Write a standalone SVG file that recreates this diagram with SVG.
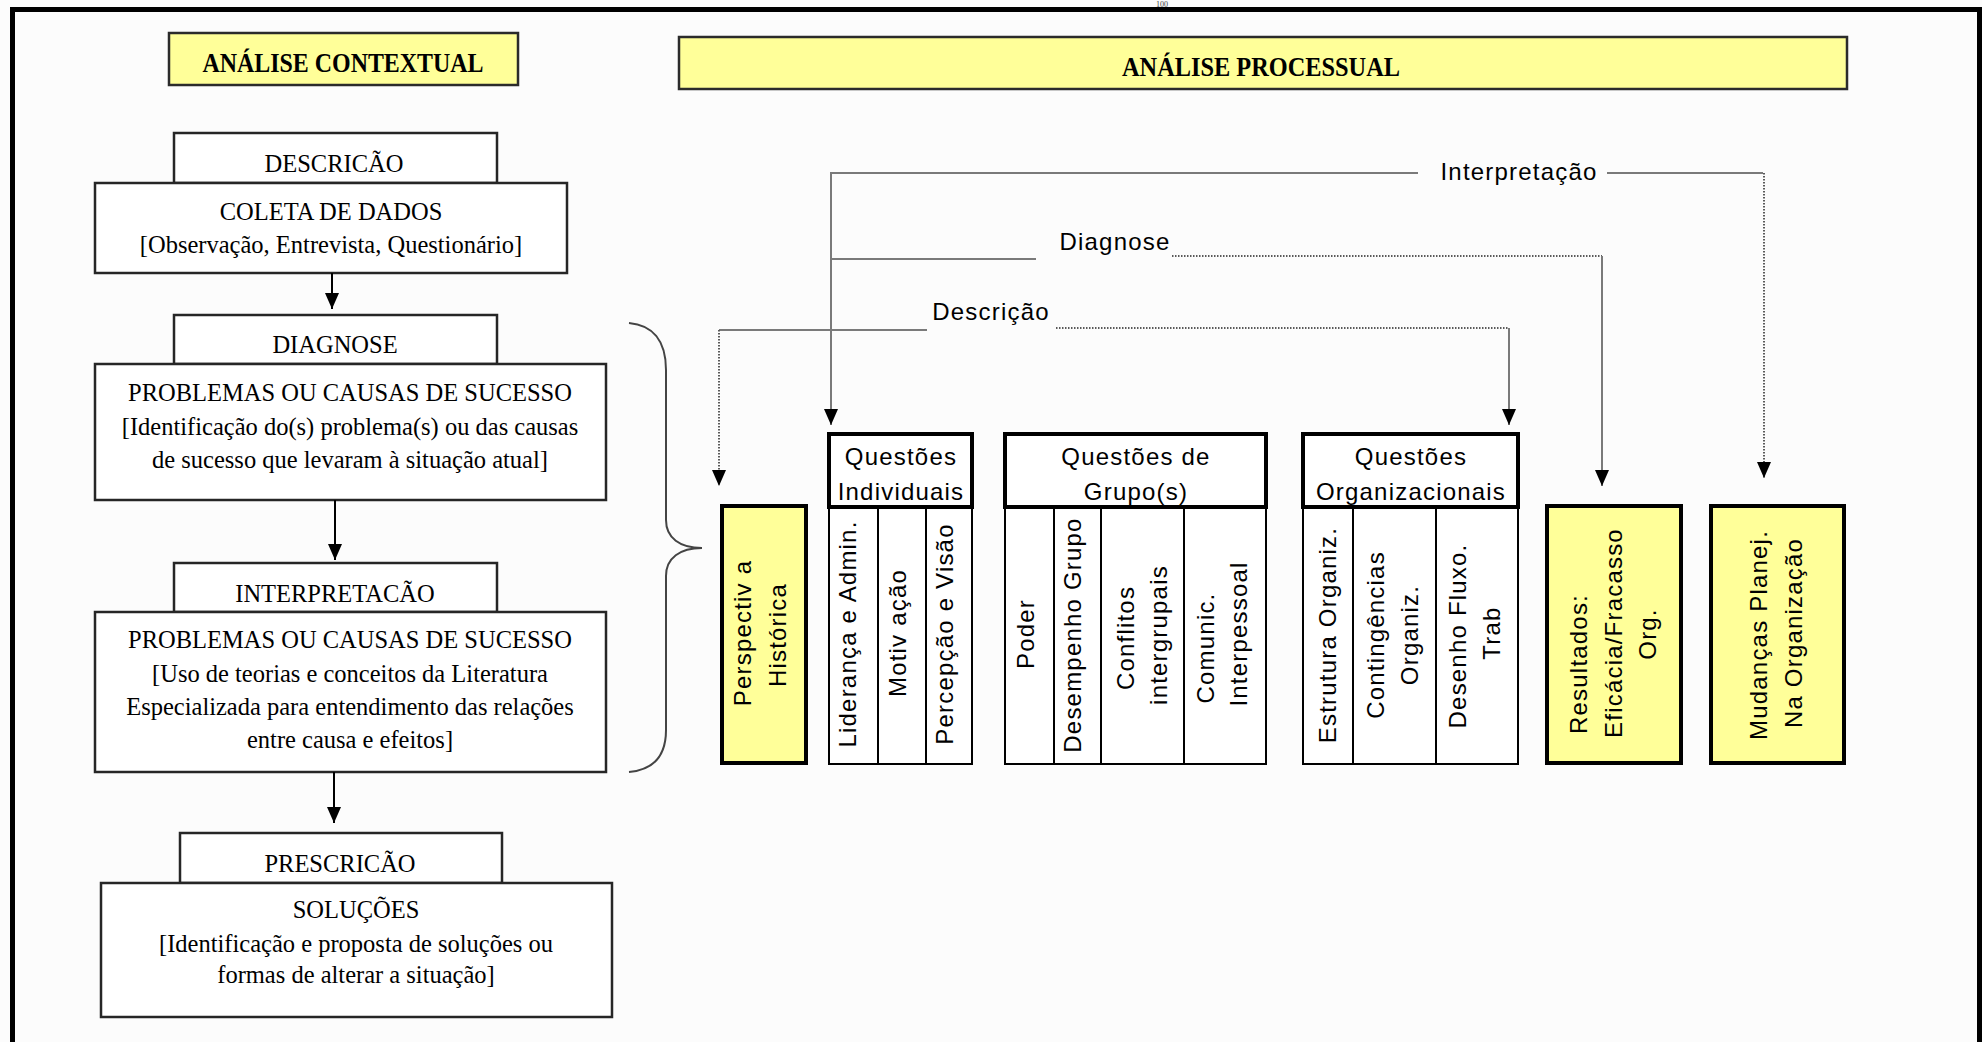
<svg xmlns="http://www.w3.org/2000/svg" width="1982" height="1042" viewBox="0 0 1982 1042">
  <style>
    .serif { font-family: 'Liberation Serif', 'Times New Roman', serif; font-size: 24.5px; fill: #000; text-anchor: middle; }
    .title { font-family: 'Liberation Serif', 'Times New Roman', serif; font-size: 27px; font-weight: bold; fill: #000; text-anchor: middle; }
    .sans { font-family: 'Liberation Sans', Arial, sans-serif; font-size: 24px; letter-spacing: 1.2px; fill: #000; text-anchor: middle; }
    .ybox { fill: #FFFF99; stroke: #2b2b2b; stroke-width: 2.5; }
    .step { fill: #fff; stroke: #262626; stroke-width: 2.5; }
    .hdr { fill: #fff; stroke: #000; stroke-width: 4; }
    .col { fill: #fff; stroke: #000; stroke-width: 2; }
    .yel { fill: #FFFF99; stroke: #000; stroke-width: 4; }
    .flow { fill: none; stroke: #000; stroke-width: 2; }
    .link { fill: none; stroke: #7a7a7a; stroke-width: 2; }
    .dot { fill: none; stroke: #5a5a5a; stroke-width: 2; stroke-dasharray: 1.5 1.5; }
  </style>
  <defs>
    <marker id="ah" markerUnits="userSpaceOnUse" markerWidth="16" markerHeight="14" refX="16" refY="7" orient="auto">
      <path d="M0,0 L16,7 L0,14 Z" fill="#000"/>
    </marker>
  </defs>

  <!-- page -->
  <rect x="0" y="0" width="1982" height="1042" fill="#fcfcfc"/>
  <text x="1162" y="6.5" style="font-family: 'Liberation Serif', serif; font-size: 8px; text-anchor: middle; fill: #444;">100</text>
  <rect x="10" y="7" width="5" height="1035" fill="#000"/>
  <rect x="10" y="7" width="1972" height="5" fill="#000"/>
  <rect x="1977" y="7" width="5" height="1035" fill="#000"/>

  <!-- section titles -->
  <g id="analise-contextual">
    <rect class="ybox" x="169" y="33" width="349" height="52"/>
    <text class="title" x="343" y="72" textLength="281" lengthAdjust="spacingAndGlyphs">ANÁLISE CONTEXTUAL</text>
  </g>
  <g id="analise-processual">
    <rect class="ybox" x="679" y="37" width="1168" height="52"/>
    <text class="title" x="1261" y="76" textLength="278" lengthAdjust="spacingAndGlyphs">ANÁLISE PROCESSUAL</text>
  </g>

  <!-- contextual steps -->
  <g id="descricao">
    <rect class="step" x="174" y="133" width="323" height="50"/>
    <text class="serif" x="334" y="172">DESCRICÃO</text>
    <rect class="step" x="95" y="183" width="472" height="90"/>
    <text class="serif" x="331" y="220">COLETA DE DADOS</text>
    <text class="serif" x="331" y="253">[Observação, Entrevista, Questionário]</text>
  </g>
  <g id="diagnose">
    <rect class="step" x="174" y="315" width="323" height="49"/>
    <text class="serif" x="335" y="353">DIAGNOSE</text>
    <rect class="step" x="95" y="364" width="511" height="136"/>
    <text class="serif" x="350" y="401">PROBLEMAS OU CAUSAS DE SUCESSO</text>
    <text class="serif" x="350" y="435">[Identificação do(s) problema(s) ou das causas</text>
    <text class="serif" x="350" y="468">de sucesso que levaram à situação atual]</text>
  </g>
  <g id="interpretacao">
    <rect class="step" x="174" y="563" width="323" height="49"/>
    <text class="serif" x="335" y="602">INTERPRETACÃO</text>
    <rect class="step" x="95" y="612" width="511" height="160"/>
    <text class="serif" x="350" y="648">PROBLEMAS OU CAUSAS DE SUCESSO</text>
    <text class="serif" x="350" y="682">[Uso de teorias e conceitos da Literatura</text>
    <text class="serif" x="350" y="715">Especializada para entendimento das relações</text>
    <text class="serif" x="350" y="748">entre causa e efeitos]</text>
  </g>
  <g id="prescricao">
    <rect class="step" x="180" y="833" width="322" height="50"/>
    <text class="serif" x="340" y="872">PRESCRICÃO</text>
    <rect class="step" x="101" y="883" width="511" height="134"/>
    <text class="serif" x="356" y="918">SOLUÇÕES</text>
    <text class="serif" x="356" y="952">[Identificação e proposta de soluções ou</text>
    <text class="serif" x="356" y="983">formas de alterar a situação]</text>
  </g>

  <!-- brace grouping diagnose and interpretation -->
  <g id="chave">
    <path d="M629,323 C652,325 666,340 666,370 L666,520 C666,538 680,548 702,548 C680,548 666,558 666,576 L666,730 C666,758 652,770 629,772" fill="none" stroke="#444" stroke-width="2"/>
  </g>

  <!-- processual nodes -->
  <g id="perspectiva">
    <rect class="yel" x="722" y="506" width="84" height="257"/>
    <text class="sans" transform="translate(751,633) rotate(-90)">Perspectiv a</text>
    <text class="sans" transform="translate(786,635) rotate(-90)">Histórica</text>
  </g>
  <g id="questoes-individuais">
    <rect class="col" x="829" y="507" width="143" height="257"/>
    <line class="col" x1="878" y1="507" x2="878" y2="764"/>
    <line class="col" x1="926" y1="507" x2="926" y2="764"/>
    <rect class="hdr" x="829" y="434" width="143" height="73"/>
    <text class="sans" x="901" y="465">Questões</text>
    <text class="sans" x="901" y="500">Individuais</text>
    <text class="sans" transform="translate(856,634) rotate(-90)">Liderança e Admin.</text>
    <text class="sans" transform="translate(906,633) rotate(-90)">Motiv ação</text>
    <text class="sans" transform="translate(953,634) rotate(-90)">Percepção e Visão</text>
  </g>
  <g id="questoes-grupo">
    <rect class="col" x="1005" y="507" width="261" height="257"/>
    <line class="col" x1="1054" y1="507" x2="1054" y2="764"/>
    <line class="col" x1="1101" y1="507" x2="1101" y2="764"/>
    <line class="col" x1="1184" y1="507" x2="1184" y2="764"/>
    <rect class="hdr" x="1005" y="434" width="261" height="73"/>
    <text class="sans" x="1136" y="465">Questões de</text>
    <text class="sans" x="1136" y="500">Grupo(s)</text>
    <text class="sans" transform="translate(1034,634) rotate(-90)">Poder</text>
    <text class="sans" transform="translate(1081,635) rotate(-90)">Desempenho Grupo</text>
    <text class="sans" transform="translate(1134,638) rotate(-90)">Conflitos</text>
    <text class="sans" transform="translate(1167,635) rotate(-90)">intergrupais</text>
    <text class="sans" transform="translate(1214,648) rotate(-90)">Comunic.</text>
    <text class="sans" transform="translate(1247,634) rotate(-90)">Interpessoal</text>
  </g>
  <g id="questoes-organizacionais">
    <rect class="col" x="1303" y="507" width="215" height="257"/>
    <line class="col" x1="1353" y1="507" x2="1353" y2="764"/>
    <line class="col" x1="1436" y1="507" x2="1436" y2="764"/>
    <rect class="hdr" x="1303" y="434" width="215" height="73"/>
    <text class="sans" x="1411" y="465">Questões</text>
    <text class="sans" x="1411" y="500">Organizacionais</text>
    <text class="sans" transform="translate(1336,635) rotate(-90)">Estrutura Organiz.</text>
    <text class="sans" transform="translate(1384,635) rotate(-90)">Contingências</text>
    <text class="sans" transform="translate(1418,635) rotate(-90)">Organiz.</text>
    <text class="sans" transform="translate(1466,636) rotate(-90)">Desenho Fluxo.</text>
    <text class="sans" transform="translate(1500,633) rotate(-90)">Trab</text>
  </g>
  <g id="resultados">
    <rect class="yel" x="1547" y="506" width="134" height="257"/>
    <text class="sans" transform="translate(1587,664) rotate(-90)">Resultados:</text>
    <text class="sans" transform="translate(1622,633) rotate(-90)">Eficácia/Fracasso</text>
    <text class="sans" transform="translate(1656,634) rotate(-90)">Org.</text>
  </g>
  <g id="mudancas">
    <rect class="yel" x="1711" y="506" width="133" height="257"/>
    <text class="sans" transform="translate(1767,635) rotate(-90)">Mudanças Planej.</text>
    <text class="sans" transform="translate(1802,633) rotate(-90)">Na Organização</text>
  </g>

  <!-- connectors -->
  <g id="conectores">
    <!-- contextual sequence -->
    <line class="flow" x1="332" y1="273" x2="332" y2="309" marker-end="url(#ah)"/>
    <line class="flow" x1="335" y1="500" x2="335" y2="560" marker-end="url(#ah)"/>
    <line class="flow" x1="334" y1="772" x2="334" y2="823" marker-end="url(#ah)"/>

    <!-- Interpretação -->
    <path class="link" d="M1418,173 H831 V425" marker-end="url(#ah)"/>
    <path class="link" d="M1607,173 H1763"/>
    <path class="dot" d="M1764,173 V478" marker-end="url(#ah)"/>
    <text class="sans" x="1519" y="180">Interpretação</text>

    <!-- Diagnose -->
    <path class="link" d="M1036,259 H831"/>
    <path class="dot" d="M1172,256 H1602"/>
    <path class="link" d="M1602,256 V486" marker-end="url(#ah)"/>
    <text class="sans" x="1115" y="250">Diagnose</text>

    <!-- Descrição -->
    <path class="link" d="M927,330 H719"/>
    <path class="dot" d="M719,330 V486" marker-end="url(#ah)"/>
    <path class="dot" d="M1056,328 H1509"/>
    <path class="link" d="M1509,328 V425" marker-end="url(#ah)"/>
    <text class="sans" x="991" y="320">Descrição</text>
  </g>
</svg>
